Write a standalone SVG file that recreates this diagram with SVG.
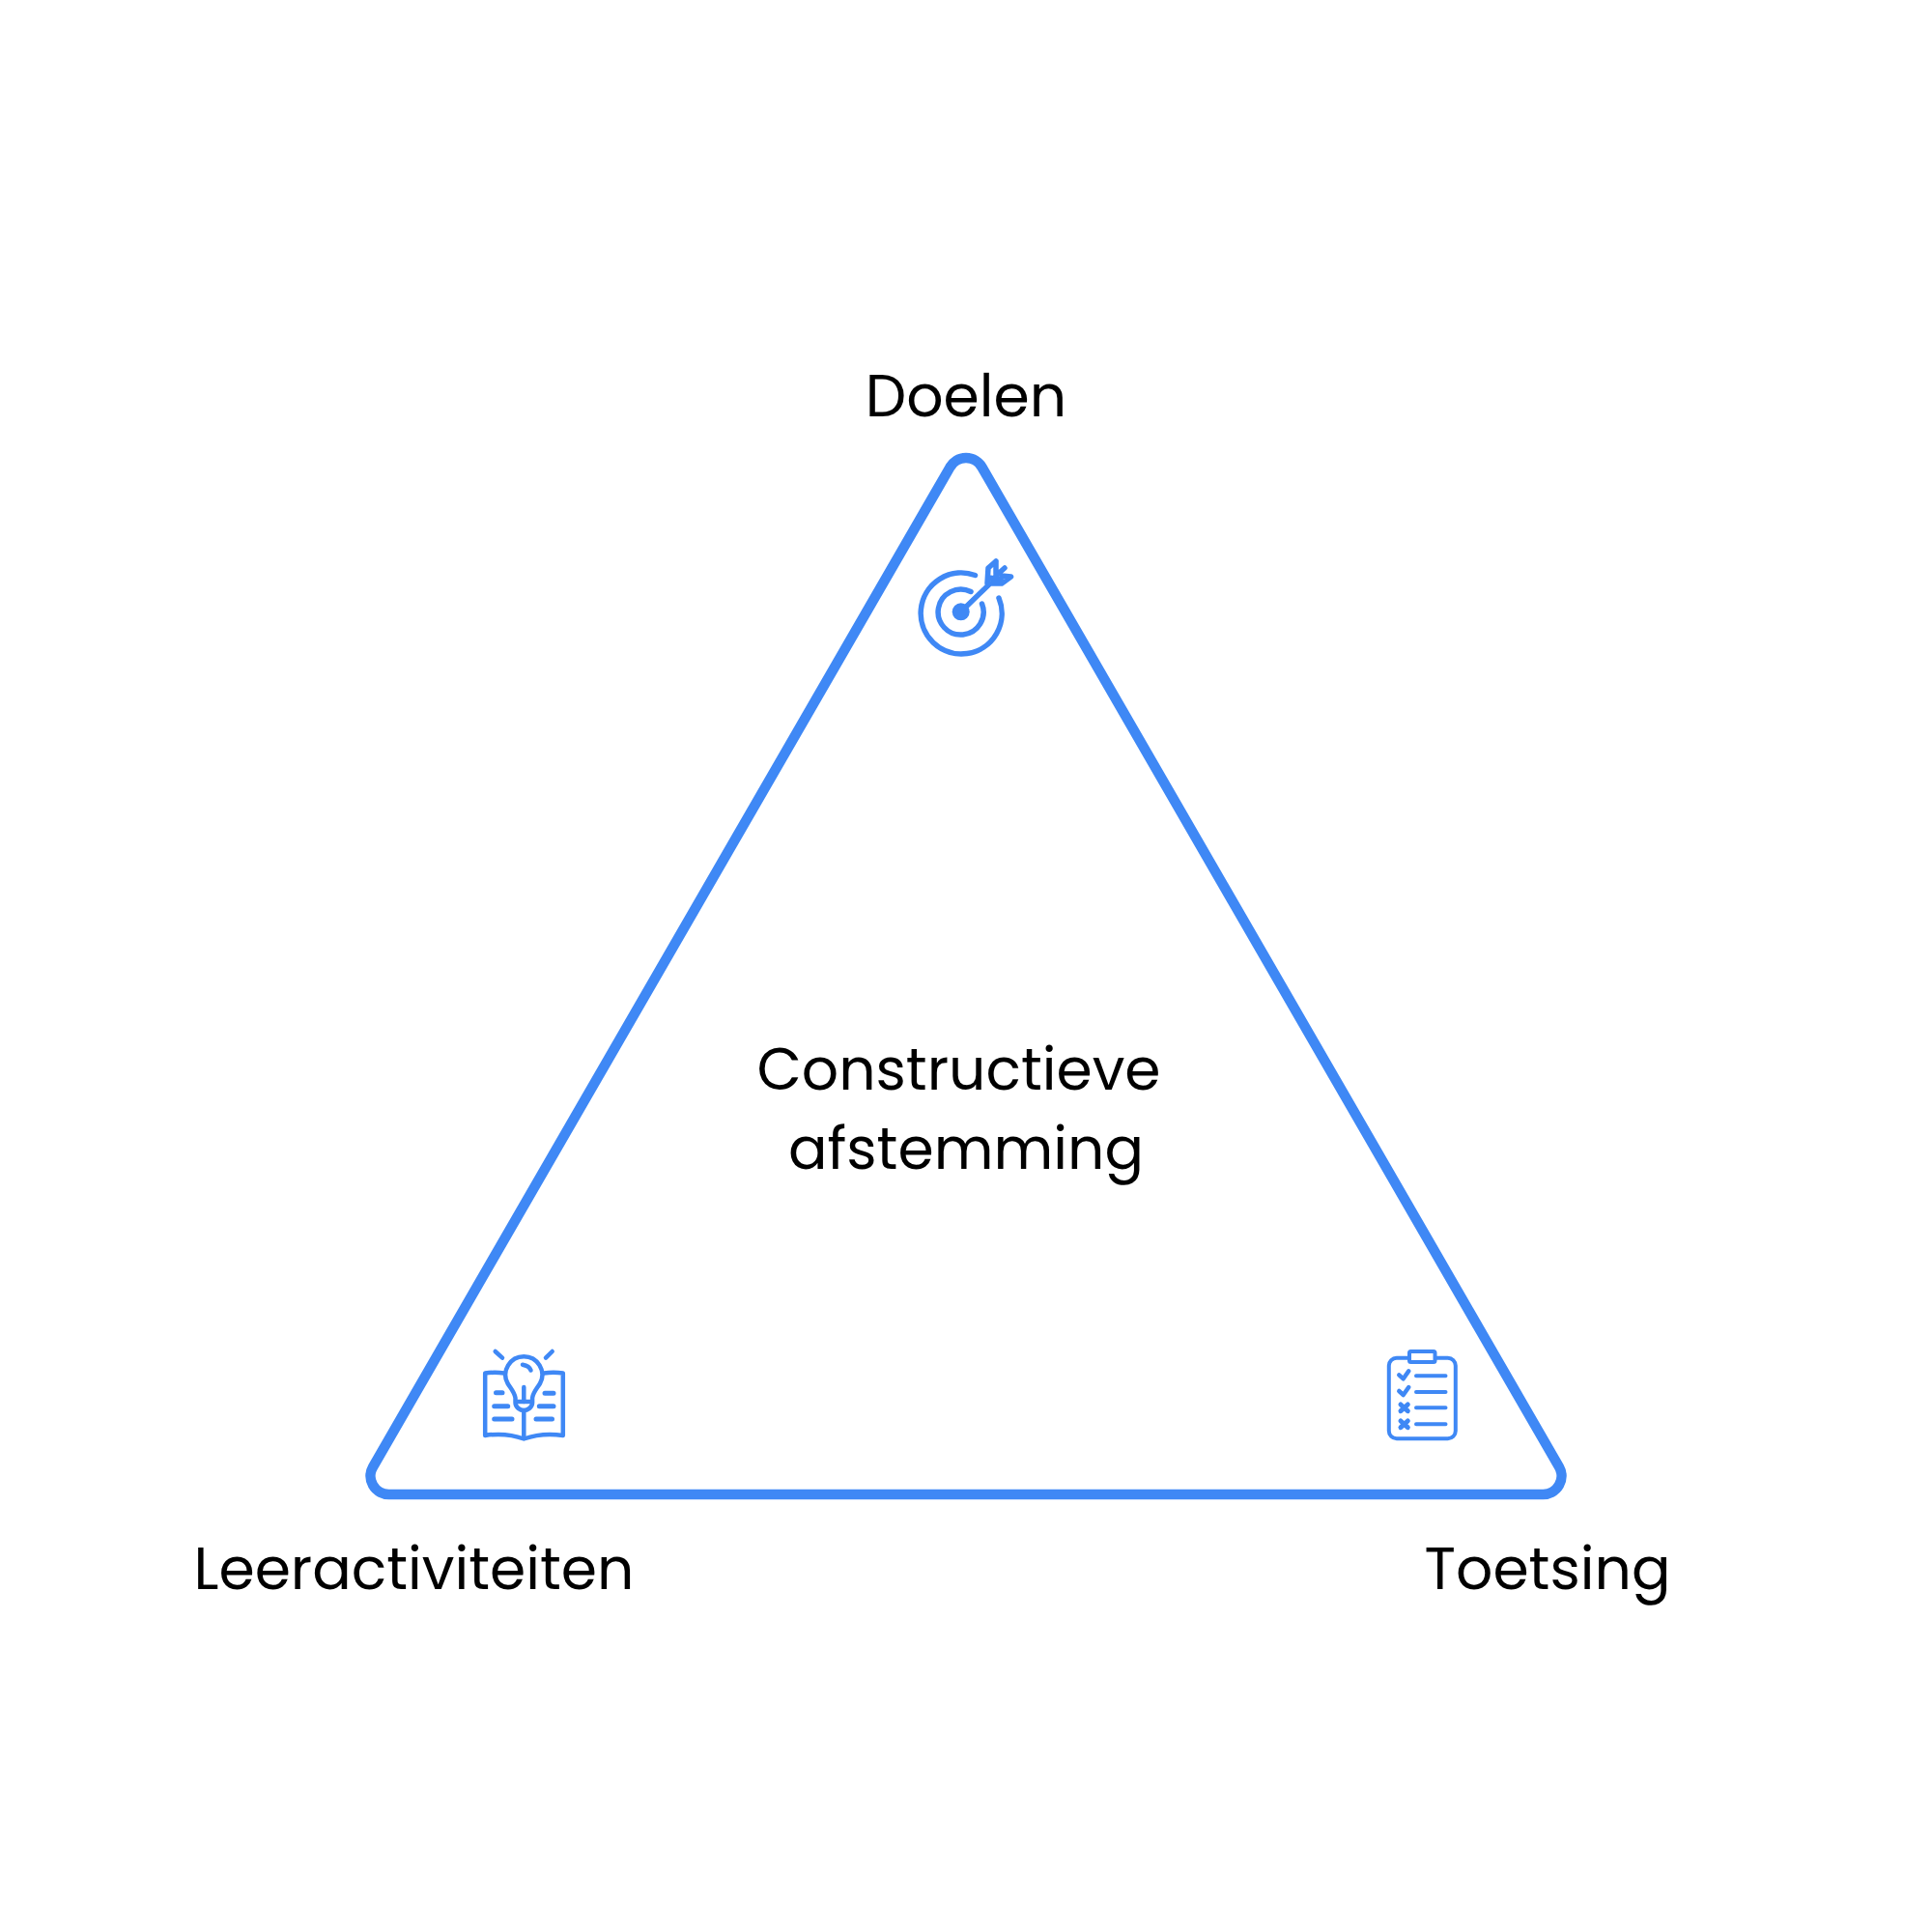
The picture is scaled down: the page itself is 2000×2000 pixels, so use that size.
<svg xmlns="http://www.w3.org/2000/svg" width="2000" height="2000" viewBox="0 0 2000 2000">
<style>
.t{font-family:"Poppins","Inter","Liberation Sans",sans-serif;font-size:60px;fill:#000;text-anchor:middle}
.s{fill:none;stroke:#3f88f5;stroke-linecap:round;stroke-linejoin:round}
.f{fill:#3f88f5}
</style>
<rect width="2000" height="2000" fill="#fff"/>
<g id="connectors"><path id="triangle" class="s" stroke-width="10.5" d="M983.550 483.500A19 19 0 0 1 1016.450 483.500L1613.950 1518.500A19 19 0 0 1 1597.500 1547H402.500A19 19 0 0 1 386.050 1518.500Z"/></g>
<g id="node-center"><text class="t" x="992.500" y="1128">Constructieve</text><text class="t" x="1000" y="1210">afstemming</text></g>
<g id="node-doelen"><text class="t" x="1000" y="431">Doelen</text>
<g class="s" stroke-width="5.500"><path d="M1009.500 595.500A42 42 0 1 0 1034 619"/><path d="M1005 612.500A23.500 23.500 0 1 0 1016.500 625"/><path d="M995 633L1025 604M1031 581L1023 588L1022 604L1037 604L1046.500 597L1037 596M1031 581L1031 594M1040 588L1031 596M1024 598L1036 600"/></g><circle class="f" cx="994.700" cy="633.300" r="9"/></g>
<g id="node-leeractiviteiten"><text class="t" x="428.500" y="1645">Leeractiviteiten</text>
<g class="s" stroke-width="4.500"><path d="M522 1421.500C515 1420.500 509 1420.500 502.200 1421.500V1486C515 1484 530 1485 542.300 1489.500C555 1485 570 1484 582.800 1486V1421.500C576 1420.500 570 1420.500 563 1421.500"/><path d="M542.300 1436V1451M542.300 1460V1488"/><path d="M533.500 1447C532.500 1441 528.500 1437 525.500 1432A19 19 0 1 1 559.100 1432C556.100 1437 552 1441 551.100 1447V1452C551.100 1457 546 1460 542.300 1460C538.500 1460 533.500 1457 533.500 1452ZM533.500 1451H551"/><path d="M512.700 1399L520 1405.700M571.700 1399L565 1405.700M541 1412.700Q548 1414 549.500 1418.500"/><path stroke-width="5" d="M513.500 1441.700H520M511.700 1455.700H525.700M511.700 1469H530M564 1442.300H573M558.300 1455.700H573M555 1469H571.500"/></g></g>
<g id="node-toetsing"><text class="t" x="1602" y="1645">Toetsing</text>
<g class="s" stroke-width="4"><rect x="1437.800" y="1405.800" width="69" height="83.500" rx="8"/><rect x="1459" y="1399" width="26.500" height="11" rx="1.500" fill="#fff"/><path d="M1466 1424.300H1496.500M1466 1441H1496.500M1466 1457.300H1496.500M1466 1474.300H1496.500"/><path stroke-width="4.500" d="M1448.300 1423.300L1452.700 1427.300L1458.300 1419.300M1448.300 1440L1452.700 1444L1458.300 1436"/><path stroke-width="5" d="M1450 1454L1457.300 1460.700M1457.300 1454L1450 1460.700M1450 1471L1457.300 1477.700M1457.300 1471L1450 1477.700"/></g></g>
</svg>
